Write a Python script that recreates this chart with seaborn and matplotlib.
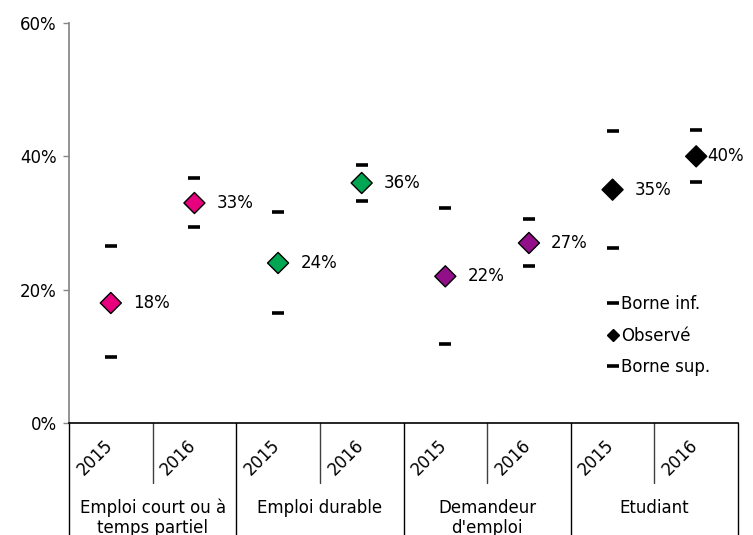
import matplotlib
matplotlib.use("Agg")
import matplotlib.pyplot as plt
from matplotlib.lines import Line2D
import seaborn as sns
import pandas as pd

# Data
groups = ["Emploi court ou à\ntemps partiel", "Emploi durable", "Demandeur\nd'emploi", "Etudiant"]
years = ["2015", "2016"]
observed = [18, 33, 24, 36, 22, 27, 35, 40]
lower = [9.9, 29.4, 16.5, 33.3, 11.8, 23.5, 26.2, 36.1]
upper = [26.5, 36.7, 31.6, 38.7, 32.2, 30.6, 43.8, 43.9]
group_colors = ["#E6007E", "#00A651", "#930F8A", "#000000"]
y_ticks = [0, 20, 40, 60]

rows = []
for gi, g in enumerate(groups):
    for yi, yr in enumerate(years):
        k = gi * 2 + yi
        rows.append(dict(pos=k, group=g, year=yr, obs=observed[k], lo=lower[k], hi=upper[k]))
df = pd.DataFrame(rows)

sns.set_theme(style="white")
plt.rcParams["font.family"] = ["DejaVu Sans"]
plt.rcParams["text.color"] = "black"
plt.rcParams["xtick.color"] = "black"
plt.rcParams["ytick.color"] = "black"
FS = 12

fig = plt.figure(figsize=(7.53, 5.35), dpi=100)
ax = fig.add_axes([69 / 753, 1 - 423 / 535, 669 / 753, 400 / 535])

# Confidence bounds
sns.scatterplot(data=df, x="pos", y="lo", marker="_", s=64, linewidth=2.6,
                color="black", ax=ax, legend=False, zorder=3)
sns.scatterplot(data=df, x="pos", y="hi", marker="_", s=64, linewidth=2.6,
                color="black", ax=ax, legend=False, zorder=3)
# Observed values
sns.scatterplot(data=df, x="pos", y="obs", hue="group", palette=group_colors,
                marker="D", s=115, edgecolor="black", linewidth=1.0,
                ax=ax, legend=False, zorder=4)

for _, r in df.iterrows():
    off = 8 if r["pos"] == 7 else 16
    ax.annotate(f"{r['obs']:.0f}%", (r["pos"], r["obs"]), xytext=(off, 0),
                textcoords="offset points", ha="left", va="center", fontsize=FS,
                color="black")

ax.set_xlim(-0.5, 7.5)
ax.set_ylim(0, 60)
ax.set_yticks(y_ticks)
ax.set_yticklabels([f"{v}%" for v in y_ticks], fontsize=FS)
ax.set_xticks([])
ax.set_xlabel("")
ax.set_ylabel("")
ax.tick_params(axis="y", length=4, width=1, color="#868686", labelcolor="black",
               direction="out", pad=5, left=True)

for side in ["top", "right"]:
    ax.spines[side].set_visible(False)
ax.spines["left"].set_color("#868686")
ax.spines["bottom"].set_color("black")
ax.spines["bottom"].set_linewidth(1.2)

# Category axis: separators and labels below the plot
xt = ax.get_xaxis_transform()
for b in [-0.5, 1.5, 3.5, 5.5, 7.5]:
    ax.plot([b, b], [0, -0.3], transform=xt, color="black", lw=1.0, clip_on=False)
for b in [0.5, 2.5, 4.5, 6.5]:
    ax.plot([b, b], [0, -0.15], transform=xt, color="#404040", lw=1.0, clip_on=False)

for _, r in df.iterrows():
    ax.annotate(r["year"], (r["pos"], 0), xycoords=xt, xytext=(-11.5, -25),
                textcoords="offset points", ha="center", va="center",
                rotation=45, fontsize=FS)
for gi, g in enumerate(groups):
    ax.annotate(g, (gi * 2 + 0.5, 0), xycoords=xt, xytext=(0, -54.5),
                textcoords="offset points", ha="center", va="top",
                fontsize=FS, linespacing=1.15)

handles = [
    Line2D([], [], marker="_", color="black", linestyle="none", markersize=9, markeredgewidth=2.6),
    Line2D([], [], marker="D", color="black", linestyle="none", markersize=6),
    Line2D([], [], marker="_", color="black", linestyle="none", markersize=9, markeredgewidth=2.6),
]
ax.legend(handles, ["Borne inf.", "Observé", "Borne sup."], loc="upper left",
          bbox_to_anchor=(0.792, 0.341), frameon=False, fontsize=FS,
          handlelength=0.7, handletextpad=0.15, labelspacing=0.82, borderpad=0)

fig.savefig("out.png", dpi=100)
